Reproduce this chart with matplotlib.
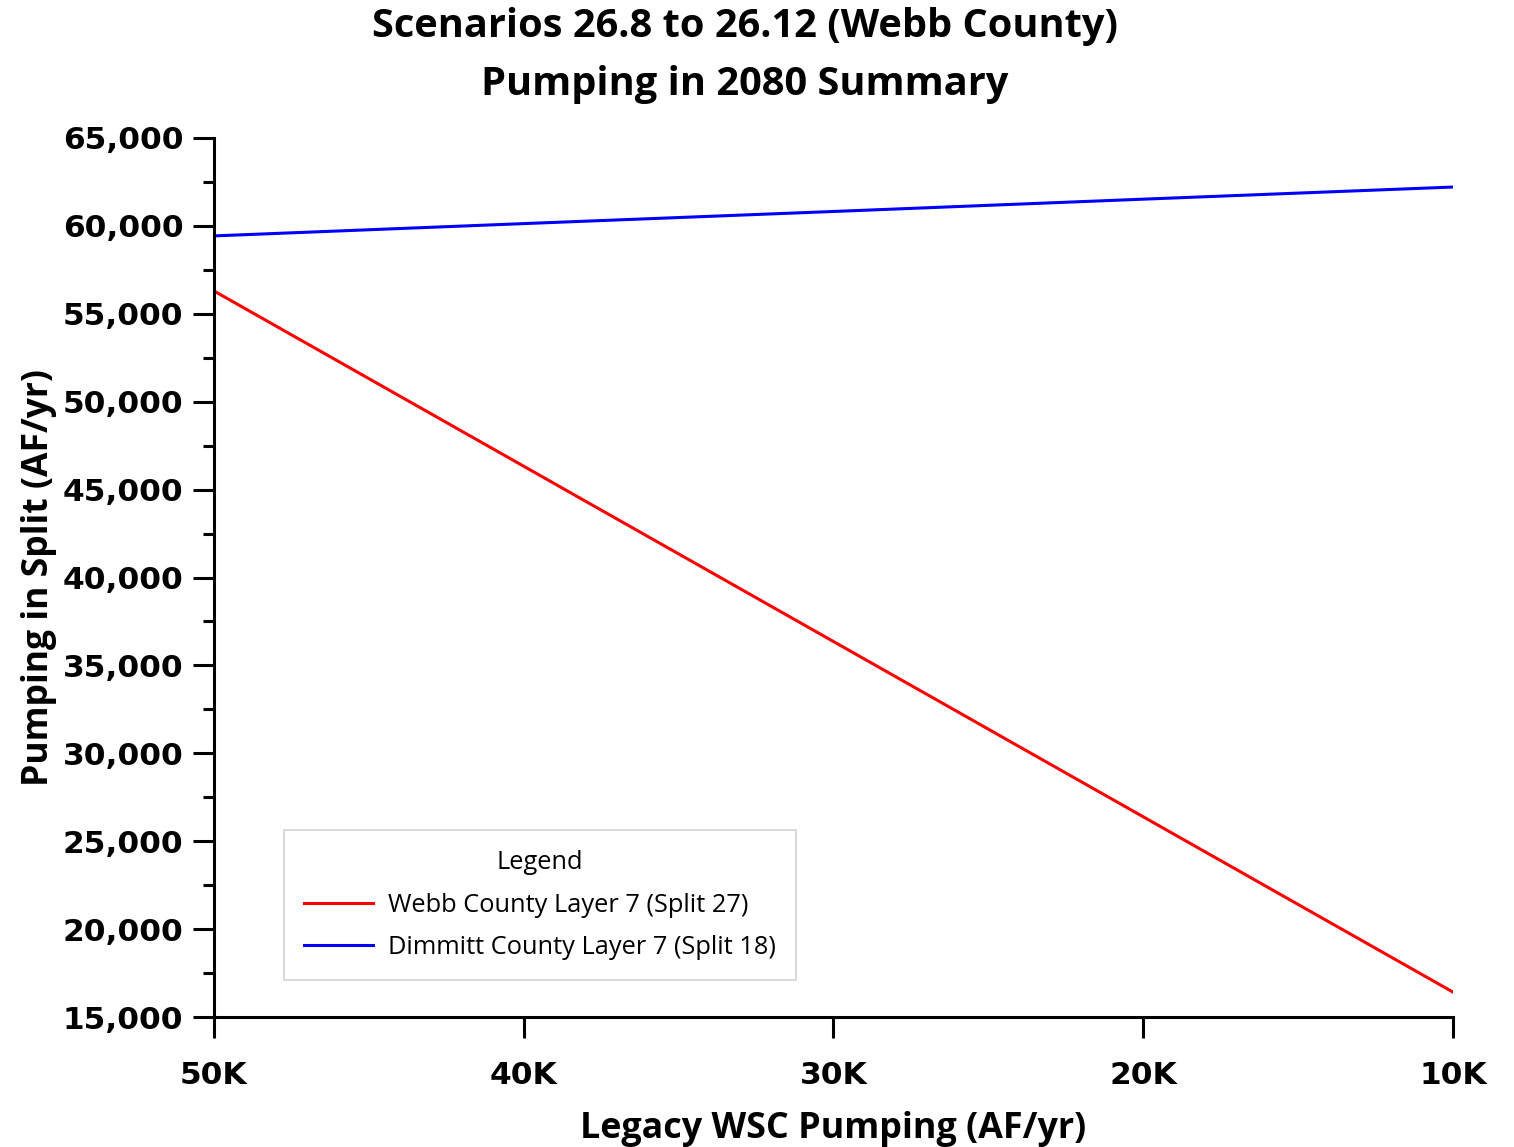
import matplotlib
matplotlib.use("Agg")
import matplotlib.pyplot as plt
from matplotlib.ticker import FuncFormatter, MultipleLocator

# Legacy WSC pumping (AF/yr), scenarios 26.8 -> 26.12
legacy_pumping = [50000, 40000, 30000, 20000, 10000]
webb_layer7 = [56300, 46330, 36360, 26390, 16420]
dimmitt_layer7 = [59430, 60130, 60820, 61520, 62210]

x_tick_labels = ["50K", "40K", "30K", "20K", "10K"]

fig = plt.figure(figsize=(15.14, 11.47), dpi=100)
ax = fig.add_axes([0.1413, 0.1133, 0.8184, 0.7664])

ax.plot(legacy_pumping, webb_layer7, color="#ff0000", lw=2.2,
        label="Webb County Layer 7 (Split 27)")
ax.plot(legacy_pumping, dimmitt_layer7, color="#0000ff", lw=2.2,
        label="Dimmitt County Layer 7 (Split 18)")

ax.set_xlim(50000, 10000)
ax.set_ylim(15000, 65000)
ax.set_xticks(legacy_pumping)
ax.set_xticklabels(x_tick_labels)
ax.yaxis.set_major_locator(MultipleLocator(5000))
ax.yaxis.set_minor_locator(MultipleLocator(2500))
ax.yaxis.set_major_formatter(FuncFormatter(lambda v, p: f"{int(v):,}"))

for s in ["top", "right"]:
    ax.spines[s].set_visible(False)
for s in ["left", "bottom"]:
    ax.spines[s].set_linewidth(2.2)

ax.tick_params(axis="both", which="major", length=15, width=2.2, direction="out")
ax.tick_params(axis="y", which="minor", length=8, width=2.2, direction="out")
ax.tick_params(axis="y", pad=7)
ax.tick_params(axis="x", pad=17)
for lab in ax.get_xticklabels() + ax.get_yticklabels():
    lab.set_fontfamily("DejaVu Sans")
    lab.set_fontweight("bold")
    lab.set_fontsize(22.5)

ax.set_xlabel("Legacy WSC Pumping (AF/yr)", family="Open Sans",
              fontweight="bold", fontsize=25.8, labelpad=15)
ax.set_ylabel("Pumping in Split (AF/yr)", family="Open Sans",
              fontweight="bold", fontsize=25.6, labelpad=4)

title_lines = ["Scenarios 26.8 to 26.12 (Webb County)", "Pumping in 2080 Summary"]
fig.text(0.492, 1 - 27 / 1147, title_lines[0], ha="center", va="center",
         family="Open Sans", fontweight="bold", fontsize=28.6)
fig.text(0.492, 1 - 84 / 1147, title_lines[1], ha="center", va="center",
         family="Open Sans", fontweight="bold", fontsize=28.6)

leg = ax.legend(loc="lower left", bbox_to_anchor=(0.0565, 0.042),
                borderaxespad=0, title="Legend",
                prop={"family": "Open Sans", "size": 18.3},
                title_fontproperties={"family": "Open Sans", "size": 18.3},
                frameon=True, fancybox=False, edgecolor="#c8c8c8",
                handlelength=2.7, borderpad=0.8, labelspacing=0.68,
                handletextpad=0.6)
leg.get_frame().set_linewidth(1.2)

fig.savefig("out.png", dpi=100)
